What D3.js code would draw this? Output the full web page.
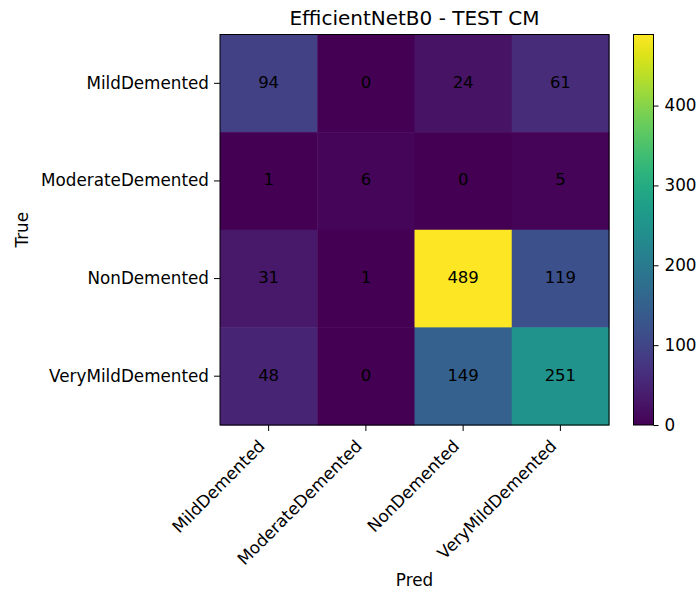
<!DOCTYPE html>
<html>
<head>
<meta charset="utf-8">
<script src="https://cdn.jsdelivr.net/npm/d3@7"></script>
<style>
  body { margin: 0; background: #fff; }
  svg text { font-family: "DejaVu Sans", sans-serif; fill: #000; }
</style>
</head>
<body>
<svg id="chart" width="699" height="593"></svg>
<script>
const classes = ["MildDemented", "ModerateDemented", "NonDemented", "VeryMildDemented"];
const row0 = [94, 0, 24, 61];
const row1 = [1, 6, 0, 5];
const row2 = [31, 1, 489, 119];
const row3 = [48, 0, 149, 251];
const matrix = [row0, row1, row2, row3];
const colorbarTicks = [0, 100, 200, 300, 400];
const titleText = "EfficientNetB0 - TEST CM";

(function () {
const svg = d3.select("#chart");
const plotLeft = 220, plotTop = 34.5, plotSize = 389, plotBottom = plotTop + 390.5;
const fs = "16.8px";

const x = d3.scaleBand().domain(classes).range([plotLeft, plotLeft + plotSize]);
const y = d3.scaleBand().domain(classes).range([plotTop, plotBottom]);
const vmax = d3.max(matrix.flat());
const color = d3.scaleSequential(d3.interpolateViridis).domain([0, vmax]);

const cells = [];
matrix.forEach((r, i) => r.forEach((v, j) => cells.push({ t: classes[i], p: classes[j], v })));

svg.append("g").selectAll("rect").data(cells).join("rect")
  .attr("x", d => x(d.p)).attr("y", d => y(d.t))
  .attr("width", x.bandwidth() + 0.5).attr("height", y.bandwidth() + 0.5)
  .attr("fill", d => color(d.v));

svg.append("g").selectAll("text").data(cells).join("text")
  .attr("x", d => x(d.p) + x.bandwidth() / 2)
  .attr("y", d => y(d.t) + y.bandwidth() / 2 - 1)
  .attr("text-anchor", "middle").attr("dominant-baseline", "central")
  .style("font-size", "16.5px")
  .text(d => d.v);

svg.append("rect").attr("x", plotLeft).attr("y", plotTop).attr("width", plotSize).attr("height", plotBottom - plotTop)
  .attr("fill", "none").attr("stroke", "#000").attr("stroke-width", 1);

// axes
const xAxis = svg.append("g").attr("transform", `translate(0,${plotBottom})`)
  .call(d3.axisBottom(x).tickSize(6).tickPadding(4));
xAxis.select(".domain").remove();
xAxis.selectAll("text")
  .style("font-size", fs)
  .attr("text-anchor", "end")
  .attr("dominant-baseline", "central")
  .attr("dy", null)
  .attr("x", 0).attr("y", 0)
  .attr("transform", "translate(-7,18) rotate(-45)");

const yAxis = svg.append("g").attr("transform", `translate(${plotLeft},0)`)
  .call(d3.axisLeft(y).tickSize(6).tickPadding(5));
yAxis.select(".domain").remove();
yAxis.selectAll("text").style("font-size", fs);

svg.append("text").attr("x", plotLeft + plotSize / 2).attr("y", 25)
  .attr("text-anchor", "middle").style("font-size", "20px").text(titleText);
svg.append("text").attr("x", plotLeft + plotSize / 2).attr("y", 586)
  .attr("text-anchor", "middle").style("font-size", fs).text("Pred");
svg.append("text").attr("transform", `translate(28,${(plotTop + plotBottom) / 2}) rotate(-90)`)
  .attr("text-anchor", "middle").style("font-size", fs).text("True");

// colorbar
const cbX = 633.5, cbW = 20;
const cbScale = d3.scaleLinear().domain([0, vmax]).range([plotBottom, plotTop]);
const defs = svg.append("defs");
const grad = defs.append("linearGradient").attr("id", "cbgrad")
  .attr("x1", 0).attr("y1", 1).attr("x2", 0).attr("y2", 0);
d3.range(0, 1.0001, 0.05).forEach(t => {
  grad.append("stop").attr("offset", t).attr("stop-color", d3.interpolateViridis(t));
});
svg.append("rect").attr("x", cbX).attr("y", plotTop).attr("width", cbW).attr("height", plotBottom - plotTop)
  .attr("fill", "url(#cbgrad)").attr("stroke", "#000").attr("stroke-width", 1);
const cbAxis = svg.append("g").attr("transform", `translate(${cbX + cbW},0)`)
  .call(d3.axisRight(cbScale).tickValues(colorbarTicks).tickSize(5).tickPadding(6));
cbAxis.select(".domain").remove();
cbAxis.selectAll("text").style("font-size", fs);
})();
</script>
</body>
</html>
